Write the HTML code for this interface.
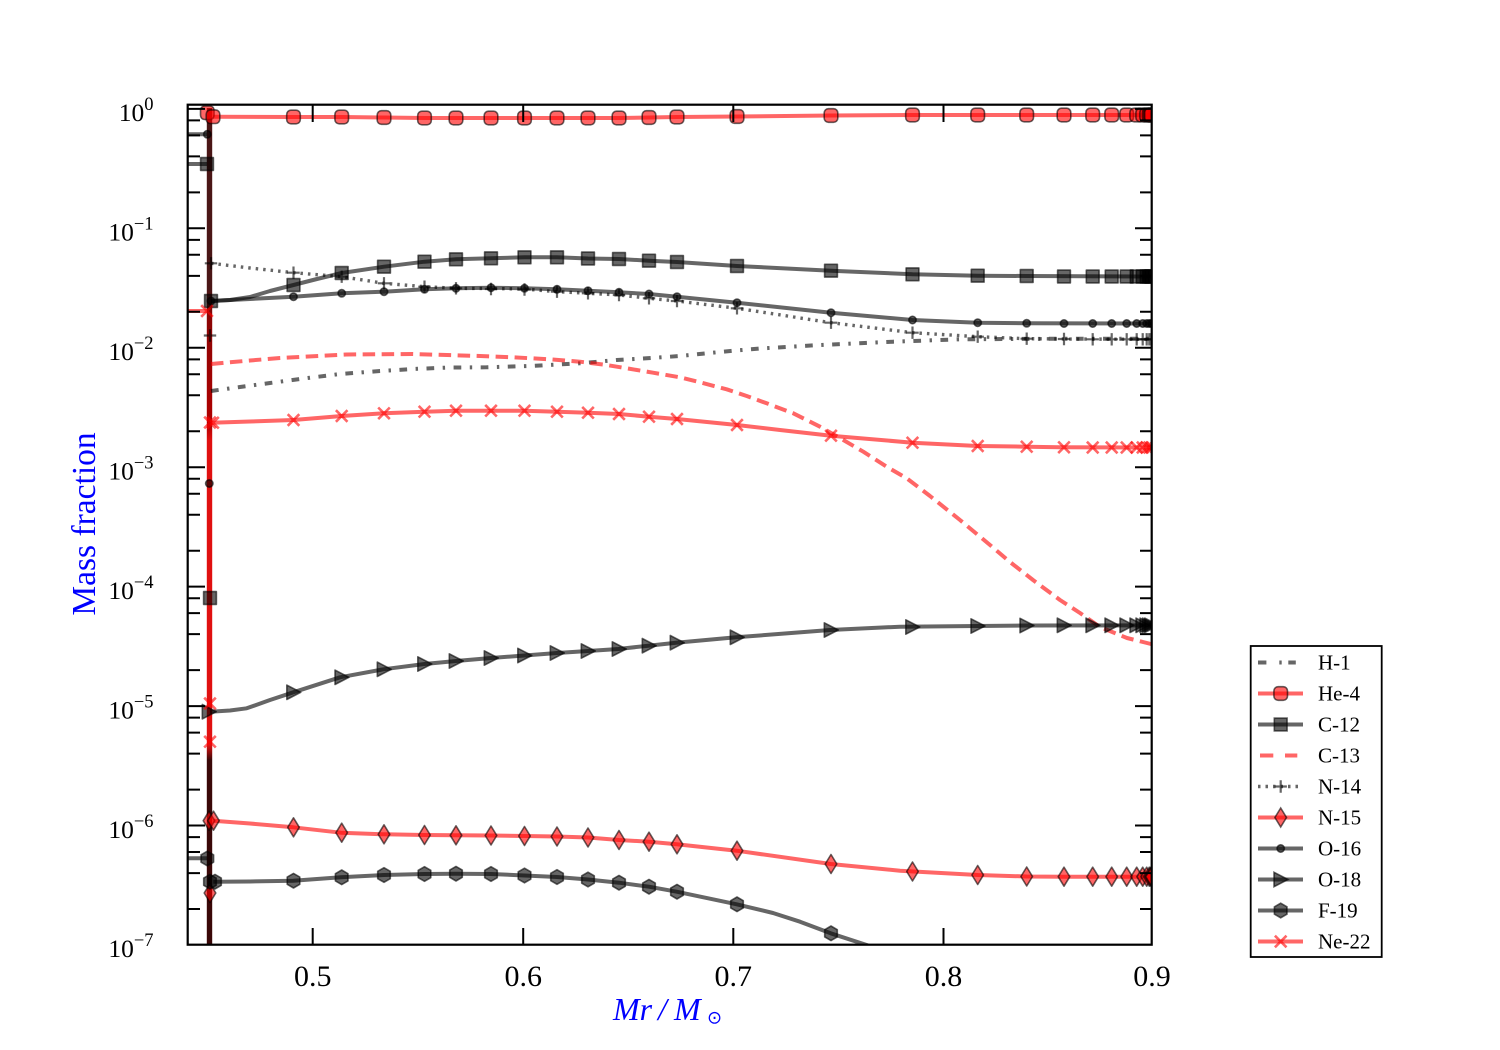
<!DOCTYPE html>
<html><head><meta charset="utf-8"><style>html,body{margin:0;padding:0;background:#fff;}svg{display:block;}</style></head>
<body>
<svg width="1500" height="1050" viewBox="0 0 1500 1050" xmlns="http://www.w3.org/2000/svg" xmlns:xlink="http://www.w3.org/1999/xlink" font-family="'Liberation Serif', serif">
<defs>
<clipPath id="pc"><rect x="188" y="105" width="964" height="840"/></clipPath>
<linearGradient id="band" x1="0" y1="108" x2="0" y2="945" gradientUnits="userSpaceOnUse">
<stop offset="0" stop-color="#4a1616"/>
<stop offset="0.217" stop-color="#4a1616"/>
<stop offset="0.247" stop-color="#8a0505"/>
<stop offset="0.379" stop-color="#b00000"/>
<stop offset="0.397" stop-color="#e01010"/>
<stop offset="0.761" stop-color="#e01010"/>
<stop offset="0.779" stop-color="#3a0808"/>
<stop offset="1" stop-color="#3a0808"/>
</linearGradient>
<g id="mHe"><rect x="-6.8" y="-6.8" width="13.6" height="13.6" rx="4.2" fill="#ff0000" fill-opacity="0.6" stroke="#000" stroke-opacity="0.6" stroke-width="1.6"/></g>
<g id="mC"><rect x="-6.4" y="-6.4" width="12.8" height="12.8" fill="#000" fill-opacity="0.6" stroke="#000" stroke-opacity="0.6" stroke-width="1.6"/></g>
<g id="mN15"><polygon points="0,-9.5 5.8,0 0,9.5 -5.8,0" fill="#ff0000" fill-opacity="0.6" stroke="#000" stroke-opacity="0.6" stroke-width="1.6"/></g>
<g id="mO16"><circle r="3.7" fill="#000" fill-opacity="0.6" stroke="#000" stroke-opacity="0.6" stroke-width="1.6"/></g>
<g id="mO18"><polygon points="7.3,0 -6.7,-7.2 -6.7,7.2" fill="#000" fill-opacity="0.6" stroke="#000" stroke-opacity="0.6" stroke-width="1.6"/></g>
<g id="mF"><polygon points="0,-7.3 6.3,-3.65 6.3,3.65 0,7.3 -6.3,3.65 -6.3,-3.65" fill="#000" fill-opacity="0.6" stroke="#000" stroke-opacity="0.6" stroke-width="1.6"/></g>
<g id="mNe"><path d="M-5.8,-5.8L5.8,5.8M-5.8,5.8L5.8,-5.8" stroke="#ff0000" stroke-opacity="0.6" stroke-width="2.6" fill="none"/></g>
<g id="mN14"><path d="M-6.2,0H6.2M0,-6.2V6.2" stroke="#000" stroke-opacity="0.6" stroke-width="2.2" fill="none"/></g>
</defs>

<rect x="0" y="0" width="1500" height="1050" fill="#fff"/>

<g clip-path="url(#pc)" fill="none" stroke-linejoin="round" stroke-linecap="butt">
<!-- vertical band -->
<rect x="206.8" y="108" width="5.4" height="840" fill="url(#band)" stroke="none"/>

<!-- left stubs -->
<path d="M186,134.3H207" stroke="#000" stroke-opacity="0.6" stroke-width="4"/>
<path d="M186,164H207" stroke="#000" stroke-opacity="0.6" stroke-width="4"/>
<path d="M186,311H207" stroke="#ff0000" stroke-opacity="0.6" stroke-width="4"/>
<path d="M186,858.3H207" stroke="#000" stroke-opacity="0.6" stroke-width="4"/>

<!-- H-1 -->
<polyline stroke="#000" stroke-opacity="0.6" stroke-width="4" stroke-dasharray="7.7 8.5 2.4 8.5" points="211,391 240,387 270,383 300,379 340,374 380,371 413,369 450,367.5 486.7,367.3 530,366 580,363.3 616.7,360 646.7,358.3 680,356 706.7,353.3 733.3,350.7 763.3,348.3 820,345 893,341.7 960,339.3 1060,338.7 1155,338.7"/>

<!-- He-4 -->
<polyline stroke="#ff0000" stroke-opacity="0.6" stroke-width="4" points="213,116.7 293.5,117 341.7,117 384,117.5 424.5,118 456,118 491,118 524.5,118 557,118 588,118 619,118 649,117.5 677,117 737,116.5 831,115.5 912.5,115 977.7,115 1026.7,115 1155,115"/>

<!-- C-12 -->
<polyline stroke="#000" stroke-opacity="0.6" stroke-width="4" points="211,301 230,300 250,297 270,291 293.5,285 317,279 341.7,273 384,266.7 424.5,261.7 456,259.3 491,258.3 524.5,257.3 557,257.3 588,258.5 619,259 649,260.7 677,262 737,266 831,270.7 912.5,274.3 977.7,275.7 1026.7,276 1155,276.5"/>

<!-- C-13 -->
<polyline stroke="#ff0000" stroke-opacity="0.6" stroke-width="4" stroke-dasharray="12.5 6.5" points="211,364 250,360.5 280,358 346.7,354.5 413,354 480,356 513,357.3 550,359.3 580,361.7 606.7,365 626.7,368.3 653,372.7 680,377.3 700,382.3 726.7,389.3 746.7,396 766.7,403.3 793.3,413.3 820,426.7 843.3,440 863.3,451.7 886.7,466.7 906.7,478.3 930,496 960,520 990,545 1010,562 1033,580 1060,600 1080,613 1100,627 1127,638 1155,645"/>

<!-- N-14 -->
<polyline stroke="#000" stroke-opacity="0.6" stroke-width="3.4" stroke-dasharray="2.5 5" points="211,263.3 250,268 293.5,272.7 341.7,276.7 384,283.3 424.5,286.7 456,288.3 491,288.5 524.5,289 557,291.7 588,293.3 619,295 649,298.3 677,301 737,308.3 831,322.7 912.5,332.7 977.7,336.7 1026.7,338.7 1064,339 1155,339.3"/>

<!-- N-15 -->
<polyline stroke="#ff0000" stroke-opacity="0.6" stroke-width="4" points="213.3,820.7 250,823.5 293.3,827.3 340.7,832.7 384,834.3 424.5,835 456,835.3 491,835.5 524.5,836 557,836.5 588,837.5 619,840 649,841.7 676.7,844.3 736.7,850.7 830.7,864 900,870.7 977.7,875 1026.7,876.5 1064,876.7 1155,876.7"/>

<!-- O-16 -->
<polyline stroke="#000" stroke-opacity="0.6" stroke-width="4" points="211,301 250,299 293.5,296.7 341.7,293.3 384,291.7 424.5,289.3 456,288.3 491,287.7 524.5,288.3 557,289.3 588,290.7 619,292.3 649,294 677,296.7 737,302.7 831,312.7 912.5,320 977.7,322.7 1026.7,323.3 1155,323.5"/>

<!-- O-18 -->
<polyline stroke="#000" stroke-opacity="0.6" stroke-width="4" points="210,711.7 230,710.5 246.7,708.3 270,700 293.3,692.3 340,677.3 383.3,669.3 424.5,664 456,661 491,658 524.5,655.5 557,653 588,651 618.3,649 648.3,645.7 676,642.7 736,637.3 830,630 900,626.7 977.7,626 1026.7,625.5 1155,625.3"/>

<!-- F-19 -->
<polyline stroke="#000" stroke-opacity="0.6" stroke-width="4" points="213.3,881.7 250,881.5 293.3,880.7 340.7,877.3 384,875 424.5,874 456,873.7 491,874 524.5,875.5 557,877 588,879.5 619,882.7 649,886.7 676.7,891.7 736.7,904.3 773,913 800,921.7 830.7,933.3 866.7,945 880,950"/>

<!-- Ne-22 -->
<polyline stroke="#ff0000" stroke-opacity="0.6" stroke-width="4" points="211.7,422.7 250,421.5 293.5,420 341.7,416 384,413.3 424.5,411.7 456,410.7 491,410.7 524.5,410.7 557,411.7 588,412.7 619,414 649,416.7 677,419 737,425 780,430 831,435.7 912.5,442.7 977.7,446 1026.7,446.7 1060,447.3 1155,447.5"/>

<!-- markers He-4 -->
<g>
<use href="#mHe" x="207.3" y="112.7"/><use href="#mHe" x="213" y="116.7"/>
<use href="#mHe" x="293.5" y="117"/><use href="#mHe" x="341.7" y="117"/><use href="#mHe" x="384" y="117.5"/><use href="#mHe" x="424.5" y="118"/><use href="#mHe" x="456" y="118"/><use href="#mHe" x="491" y="118"/><use href="#mHe" x="524.5" y="118"/><use href="#mHe" x="557" y="118"/><use href="#mHe" x="588" y="118"/><use href="#mHe" x="619" y="118"/><use href="#mHe" x="649" y="117.5"/><use href="#mHe" x="677" y="117"/><use href="#mHe" x="737" y="116.5"/><use href="#mHe" x="831" y="115.5"/><use href="#mHe" x="912.5" y="115"/><use href="#mHe" x="977.7" y="115"/><use href="#mHe" x="1026.7" y="115"/><use href="#mHe" x="1064" y="115"/><use href="#mHe" x="1092.7" y="115"/><use href="#mHe" x="1111.7" y="115"/><use href="#mHe" x="1126.7" y="115"/><use href="#mHe" x="1136.7" y="115"/><use href="#mHe" x="1142.7" y="115"/><use href="#mHe" x="1146.7" y="115"/><use href="#mHe" x="1149.3" y="115"/><use href="#mHe" x="1150.7" y="115"/><use href="#mHe" x="1151.5" y="115"/>
</g>
<!-- markers C-12 -->
<g>
<use href="#mC" x="207" y="164"/><use href="#mC" x="210" y="598"/><use href="#mC" x="211" y="301"/>
<use href="#mC" x="293.5" y="285"/><use href="#mC" x="341.7" y="273"/><use href="#mC" x="384" y="266.7"/><use href="#mC" x="424.5" y="261.7"/><use href="#mC" x="456" y="259.3"/><use href="#mC" x="491" y="258.3"/><use href="#mC" x="524.5" y="257.3"/><use href="#mC" x="557" y="257.3"/><use href="#mC" x="588" y="258.5"/><use href="#mC" x="619" y="259"/><use href="#mC" x="649" y="260.7"/><use href="#mC" x="677" y="262"/><use href="#mC" x="737" y="266"/><use href="#mC" x="831" y="270.7"/><use href="#mC" x="912.5" y="274.3"/><use href="#mC" x="977.7" y="275.7"/><use href="#mC" x="1026.7" y="276"/><use href="#mC" x="1064" y="276.5"/><use href="#mC" x="1092.7" y="276.5"/><use href="#mC" x="1111.7" y="276.5"/><use href="#mC" x="1126.7" y="276.5"/><use href="#mC" x="1136.7" y="276.5"/><use href="#mC" x="1142.7" y="276.5"/><use href="#mC" x="1146.7" y="276.5"/><use href="#mC" x="1149.3" y="276.5"/><use href="#mC" x="1150.7" y="276.5"/><use href="#mC" x="1151.5" y="276.5"/>
</g>
<!-- markers N-14 -->
<g>
<use href="#mN14" x="211" y="263.3"/><use href="#mN14" x="210" y="335.5"/>
<use href="#mN14" x="293.5" y="272.7"/><use href="#mN14" x="341.7" y="276.7"/><use href="#mN14" x="384" y="283.3"/><use href="#mN14" x="424.5" y="286.7"/><use href="#mN14" x="456" y="288.3"/><use href="#mN14" x="491" y="289"/><use href="#mN14" x="524.5" y="289.5"/><use href="#mN14" x="557" y="291.7"/><use href="#mN14" x="588" y="293.3"/><use href="#mN14" x="619" y="295"/><use href="#mN14" x="649" y="298.3"/><use href="#mN14" x="677" y="301"/><use href="#mN14" x="737" y="308.3"/><use href="#mN14" x="831" y="322.7"/><use href="#mN14" x="912.5" y="332.7"/><use href="#mN14" x="977.7" y="336.7"/><use href="#mN14" x="1026.7" y="338.7"/><use href="#mN14" x="1064" y="339"/><use href="#mN14" x="1092.7" y="339.3"/><use href="#mN14" x="1111.7" y="339.3"/><use href="#mN14" x="1126.7" y="339.3"/><use href="#mN14" x="1136.7" y="339.3"/><use href="#mN14" x="1142.7" y="339.3"/><use href="#mN14" x="1146.7" y="339.3"/><use href="#mN14" x="1149.3" y="339.3"/><use href="#mN14" x="1151.5" y="339.3"/>
</g>
<!-- markers N-15 -->
<g>
<use href="#mN15" x="209" y="820.7"/><use href="#mN15" x="213.5" y="820.7"/><use href="#mN15" x="210" y="893"/>
<use href="#mN15" x="293.5" y="827.3"/><use href="#mN15" x="341.7" y="832.7"/><use href="#mN15" x="384" y="834.3"/><use href="#mN15" x="424.5" y="835"/><use href="#mN15" x="456" y="835.3"/><use href="#mN15" x="491" y="835.5"/><use href="#mN15" x="524.5" y="836"/><use href="#mN15" x="557" y="836.5"/><use href="#mN15" x="588" y="837.5"/><use href="#mN15" x="619" y="840"/><use href="#mN15" x="649" y="841.7"/><use href="#mN15" x="677" y="844.3"/><use href="#mN15" x="737" y="850.7"/><use href="#mN15" x="831" y="864"/><use href="#mN15" x="912.5" y="871.5"/><use href="#mN15" x="977.7" y="875"/><use href="#mN15" x="1026.7" y="876.5"/><use href="#mN15" x="1064" y="876.7"/><use href="#mN15" x="1092.7" y="876.7"/><use href="#mN15" x="1111.7" y="876.7"/><use href="#mN15" x="1126.7" y="876.7"/><use href="#mN15" x="1136.7" y="876.7"/><use href="#mN15" x="1142.7" y="876.7"/><use href="#mN15" x="1146.7" y="876.7"/><use href="#mN15" x="1149.3" y="876.7"/><use href="#mN15" x="1150.7" y="876.7"/><use href="#mN15" x="1151.5" y="876.7"/>
</g>
<!-- markers O-16 -->
<g>
<use href="#mO16" x="207.3" y="134.3"/><use href="#mO16" x="209.3" y="483.5"/><use href="#mO16" x="211" y="301"/>
<use href="#mO16" x="293.5" y="296.7"/><use href="#mO16" x="341.7" y="293.3"/><use href="#mO16" x="384" y="291.7"/><use href="#mO16" x="424.5" y="289.3"/><use href="#mO16" x="456" y="288.3"/><use href="#mO16" x="491" y="287.7"/><use href="#mO16" x="524.5" y="288.3"/><use href="#mO16" x="557" y="289.3"/><use href="#mO16" x="588" y="290.7"/><use href="#mO16" x="619" y="292.3"/><use href="#mO16" x="649" y="294"/><use href="#mO16" x="677" y="296.7"/><use href="#mO16" x="737" y="302.7"/><use href="#mO16" x="831" y="312.7"/><use href="#mO16" x="912.5" y="320"/><use href="#mO16" x="977.7" y="322.7"/><use href="#mO16" x="1026.7" y="323.3"/><use href="#mO16" x="1064" y="323.5"/><use href="#mO16" x="1092.7" y="323.5"/><use href="#mO16" x="1111.7" y="323.5"/><use href="#mO16" x="1126.7" y="323.5"/><use href="#mO16" x="1136.7" y="323.5"/><use href="#mO16" x="1142.7" y="323.5"/><use href="#mO16" x="1146.7" y="323.5"/><use href="#mO16" x="1149.3" y="323.5"/><use href="#mO16" x="1151.5" y="323.5"/>
</g>
<!-- markers O-18 -->
<g>
<use href="#mO18" x="209" y="711.7"/>
<use href="#mO18" x="293.5" y="692.3"/><use href="#mO18" x="341.7" y="677.3"/><use href="#mO18" x="384" y="669.3"/><use href="#mO18" x="424.5" y="664"/><use href="#mO18" x="456" y="661"/><use href="#mO18" x="491" y="658"/><use href="#mO18" x="524.5" y="655.5"/><use href="#mO18" x="557" y="653"/><use href="#mO18" x="588" y="651"/><use href="#mO18" x="619" y="649"/><use href="#mO18" x="649" y="645.7"/><use href="#mO18" x="677" y="642.7"/><use href="#mO18" x="737" y="637.3"/><use href="#mO18" x="831" y="630"/><use href="#mO18" x="912.5" y="627"/><use href="#mO18" x="977.7" y="626"/><use href="#mO18" x="1026.7" y="625.5"/><use href="#mO18" x="1064" y="625.3"/><use href="#mO18" x="1092.7" y="625.3"/><use href="#mO18" x="1111.7" y="625.3"/><use href="#mO18" x="1126.7" y="625.3"/><use href="#mO18" x="1136.7" y="625.3"/><use href="#mO18" x="1142.7" y="625.3"/><use href="#mO18" x="1146.7" y="625.3"/><use href="#mO18" x="1149.3" y="625.3"/><use href="#mO18" x="1151.5" y="625.3"/>
</g>
<!-- markers F-19 -->
<g>
<use href="#mF" x="207.3" y="858.5"/><use href="#mF" x="210" y="881.7"/><use href="#mF" x="215" y="881.7"/>
<use href="#mF" x="293.5" y="880.7"/><use href="#mF" x="341.7" y="877.3"/><use href="#mF" x="384" y="875"/><use href="#mF" x="424.5" y="874"/><use href="#mF" x="456" y="873.7"/><use href="#mF" x="491" y="874"/><use href="#mF" x="524.5" y="875.5"/><use href="#mF" x="557" y="877"/><use href="#mF" x="588" y="879.5"/><use href="#mF" x="619" y="882.7"/><use href="#mF" x="649" y="886.7"/><use href="#mF" x="677" y="891.7"/><use href="#mF" x="737" y="904.3"/><use href="#mF" x="831" y="933.3"/>
</g>
<!-- markers Ne-22 -->
<g>
<use href="#mNe" x="207" y="311"/><use href="#mNe" x="210" y="422.5"/><use href="#mNe" x="213" y="422.7"/><use href="#mNe" x="210" y="703.5"/><use href="#mNe" x="210" y="741.7"/>
<use href="#mNe" x="293.5" y="420"/><use href="#mNe" x="341.7" y="416"/><use href="#mNe" x="384" y="413.3"/><use href="#mNe" x="424.5" y="411.7"/><use href="#mNe" x="456" y="410.7"/><use href="#mNe" x="491" y="410.7"/><use href="#mNe" x="524.5" y="410.7"/><use href="#mNe" x="557" y="411.7"/><use href="#mNe" x="588" y="412.7"/><use href="#mNe" x="619" y="414"/><use href="#mNe" x="649" y="416.7"/><use href="#mNe" x="677" y="419"/><use href="#mNe" x="737" y="425"/><use href="#mNe" x="831" y="435.7"/><use href="#mNe" x="912.5" y="442.7"/><use href="#mNe" x="977.7" y="446"/><use href="#mNe" x="1026.7" y="446.7"/><use href="#mNe" x="1064" y="447.3"/><use href="#mNe" x="1092.7" y="447.5"/><use href="#mNe" x="1111.7" y="447.5"/><use href="#mNe" x="1126.7" y="447.5"/><use href="#mNe" x="1136.7" y="447.5"/><use href="#mNe" x="1142.7" y="447.5"/><use href="#mNe" x="1146.7" y="447.5"/><use href="#mNe" x="1149.3" y="447.5"/><use href="#mNe" x="1151.5" y="447.5"/>
</g>
</g>

<!-- ticks -->
<g stroke="#000" stroke-width="2" fill="none">
<path d="M188,825.55h17M188,706.1h17M188,586.65h17M188,467.2h17M188,347.75h17M188,228.3h17M188,108.85h17"/>
<path d="M1152,825.55h-17M1152,706.1h-17M1152,586.65h-17M1152,467.2h-17M1152,347.75h-17M1152,228.3h-17M1152,108.85h-17"/>
<path d="M188,909.04h12M188,873.08h12M188,852.05h12M188,837.13h12M188,789.59h12M188,753.63h12M188,732.6h12M188,717.68h12M188,670.14h12M188,634.18h12M188,613.15h12M188,598.23h12M188,550.69h12M188,514.73h12M188,493.7h12M188,478.78h12M188,431.24h12M188,395.28h12M188,374.25h12M188,359.33h12M188,311.79h12M188,275.83h12M188,254.8h12M188,239.88h12M188,192.34h12M188,156.38h12M188,135.35h12M188,120.43h12"/>
<path d="M1152,909.04h-12M1152,873.08h-12M1152,852.05h-12M1152,837.13h-12M1152,789.59h-12M1152,753.63h-12M1152,732.6h-12M1152,717.68h-12M1152,670.14h-12M1152,634.18h-12M1152,613.15h-12M1152,598.23h-12M1152,550.69h-12M1152,514.73h-12M1152,493.7h-12M1152,478.78h-12M1152,431.24h-12M1152,395.28h-12M1152,374.25h-12M1152,359.33h-12M1152,311.79h-12M1152,275.83h-12M1152,254.8h-12M1152,239.88h-12M1152,192.34h-12M1152,156.38h-12M1152,135.35h-12M1152,120.43h-12"/>
<path d="M312.7,945v-17M523.2,945v-17M733.3,945v-17M943.5,945v-17"/>
<path d="M312.7,105v17M523.2,105v17M733.3,105v17M943.5,105v17"/>
</g>

<!-- spines -->
<rect x="187.7" y="104.7" width="964" height="840" fill="none" stroke="#000" stroke-width="2.2"/>

<!-- y tick labels -->
<g fill="#000" text-anchor="end">
<text x="153.5" y="121"><tspan font-size="25.5">10</tspan><tspan font-size="18.5" dy="-11">0</tspan></text>
<text x="153.5" y="240.5"><tspan font-size="25.5">10</tspan><tspan font-size="18.5" dy="-11">−1</tspan></text>
<text x="153.5" y="360"><tspan font-size="25.5">10</tspan><tspan font-size="18.5" dy="-11">−2</tspan></text>
<text x="153.5" y="479.4"><tspan font-size="25.5">10</tspan><tspan font-size="18.5" dy="-11">−3</tspan></text>
<text x="153.5" y="598.9"><tspan font-size="25.5">10</tspan><tspan font-size="18.5" dy="-11">−4</tspan></text>
<text x="153.5" y="718.3"><tspan font-size="25.5">10</tspan><tspan font-size="18.5" dy="-11">−5</tspan></text>
<text x="153.5" y="837.8"><tspan font-size="25.5">10</tspan><tspan font-size="18.5" dy="-11">−6</tspan></text>
<text x="153.5" y="957.2"><tspan font-size="25.5">10</tspan><tspan font-size="18.5" dy="-11">−7</tspan></text>
</g>

<!-- x tick labels -->
<g fill="#000" text-anchor="middle" font-size="30">
<text x="312.7" y="986">0.5</text>
<text x="523.2" y="986">0.6</text>
<text x="733.3" y="986">0.7</text>
<text x="943.5" y="986">0.8</text>
<text x="1152" y="986">0.9</text>
</g>

<!-- axis labels -->
<text transform="translate(95,524) rotate(-90)" text-anchor="middle" font-size="33.5" fill="#0000ff">Mass fraction</text>
<text y="1020" font-size="32" fill="#0000ff" font-style="italic"><tspan x="613">Mr</tspan><tspan x="658">/</tspan><tspan x="674">M</tspan></text>
<text x="707" y="1023.5" font-size="18" fill="#0000ff" font-family="'DejaVu Sans', sans-serif">⊙</text>

<!-- legend -->
<rect x="1250.7" y="646" width="131" height="311" fill="#fff" stroke="#000" stroke-width="1.8"/>
<g fill="none" stroke-linecap="butt">
<path d="M1258,662.5h8.4M1279.3,662.5h2.4M1288.3,662.5h7.5" stroke="#000" stroke-opacity="0.6" stroke-width="4"/>
<path d="M1258,693.5H1303" stroke="#ff0000" stroke-opacity="0.6" stroke-width="4"/>
<path d="M1258,724.5H1303" stroke="#000" stroke-opacity="0.6" stroke-width="4"/>
<path d="M1260,755.5h13.3M1285,755.5h12.3" stroke="#ff0000" stroke-opacity="0.6" stroke-width="4"/>
<path d="M1258,786.5H1303" stroke="#000" stroke-opacity="0.6" stroke-width="3.4" stroke-dasharray="2.5 5"/>
<path d="M1258,817.5H1303" stroke="#ff0000" stroke-opacity="0.6" stroke-width="4"/>
<path d="M1258,848.5H1303" stroke="#000" stroke-opacity="0.6" stroke-width="4"/>
<path d="M1258,879.5H1303" stroke="#000" stroke-opacity="0.6" stroke-width="4"/>
<path d="M1258,910.5H1303" stroke="#000" stroke-opacity="0.6" stroke-width="4"/>
<path d="M1258,941.5H1303" stroke="#ff0000" stroke-opacity="0.6" stroke-width="4"/>
</g>
<use href="#mHe" x="1280.7" y="693.5"/>
<use href="#mC" x="1280.7" y="724.5"/>
<use href="#mN14" x="1280.7" y="786.5"/>
<use href="#mN15" x="1280.7" y="817.5"/>
<use href="#mO16" x="1280.7" y="848.5"/>
<use href="#mO18" x="1280.7" y="879.5"/>
<use href="#mF" x="1280.7" y="910.5"/>
<use href="#mNe" x="1280.7" y="941.5"/>
<g fill="#000" font-size="21">
<text x="1318" y="669.5">H-1</text>
<text x="1318" y="700.5">He-4</text>
<text x="1318" y="731.5">C-12</text>
<text x="1318" y="762.5">C-13</text>
<text x="1318" y="793.5">N-14</text>
<text x="1318" y="824.5">N-15</text>
<text x="1318" y="855.5">O-16</text>
<text x="1318" y="886.5">O-18</text>
<text x="1318" y="917.5">F-19</text>
<text x="1318" y="948.5">Ne-22</text>
</g>
</svg>
</body></html>
